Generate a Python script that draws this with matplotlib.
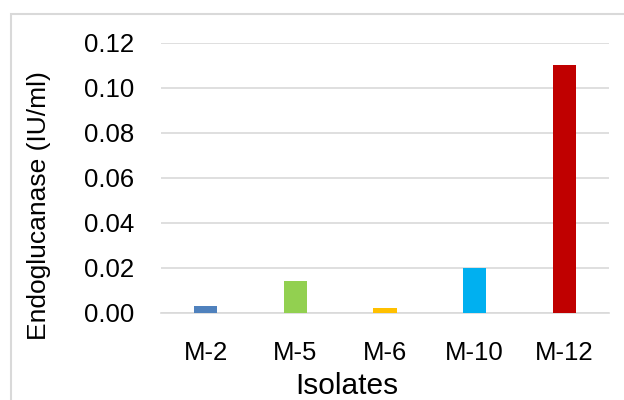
import matplotlib
matplotlib.use("Agg")
import matplotlib.pyplot as plt
from matplotlib.patches import Rectangle

categories = ["M-2", "M-5", "M-6", "M-10", "M-12"]
values = [0.003, 0.014, 0.002, 0.020, 0.110]
colors = ["#4F81BD", "#92D050", "#FFC000", "#00B0F0", "#C00000"]
yticks = [0.00, 0.02, 0.04, 0.06, 0.08, 0.10, 0.12]
ytick_labels = ["0.00", "0.02", "0.04", "0.06", "0.08", "0.10", "0.12"]

plt.rcParams['font.family'] = ['Liberation Sans', 'DejaVu Sans']

W, H = 624, 400
fig = plt.figure(figsize=(W/100, H/100), dpi=100)

# outer chart border (extends past right/bottom edges)
fig.patches.append(Rectangle((11/W, -0.05), 1.2, (H-14)/H + 0.05, transform=fig.transFigure,
                             fill=False, edgecolor="#D9D9D9", linewidth=1.5))

left, right, top, bottom = 161, 609, 42.5, 313
ax = fig.add_axes([left/W, 1-bottom/H, (right-left)/W, (bottom-top)/H])

x = range(len(categories))
ax.bar(x, values, width=0.26, color=colors, zorder=3)
ax.set_xlim(-0.5, len(categories)-0.5)
ax.set_ylim(0, 0.12)
ax.set_yticks(yticks)
ax.set_yticklabels(ytick_labels)
ax.set_xticks(list(x))
ax.set_xticklabels(categories)
ax.tick_params(axis='both', length=0, labelsize=18.5, colors="black")
ax.tick_params(axis='y', pad=19.4)
ax.tick_params(axis='x', pad=20)
ax.grid(axis='y', color="#D9D9D9", linewidth=1.2, zorder=0)
for s in ["top", "right", "left"]:
    ax.spines[s].set_visible(False)
ax.spines["bottom"].set_color("#D9D9D9")
ax.spines["bottom"].set_linewidth(1.2)

fig.text(347/W, 1-386/H, "Isolates", ha="center", va="center", fontsize=21.5)
fig.text(39/W, 1-206/H, "Endoglucanase (IU/ml)", ha="center", va="center",
         rotation=90, fontsize=19)

fig.savefig("out.png", dpi=100)
